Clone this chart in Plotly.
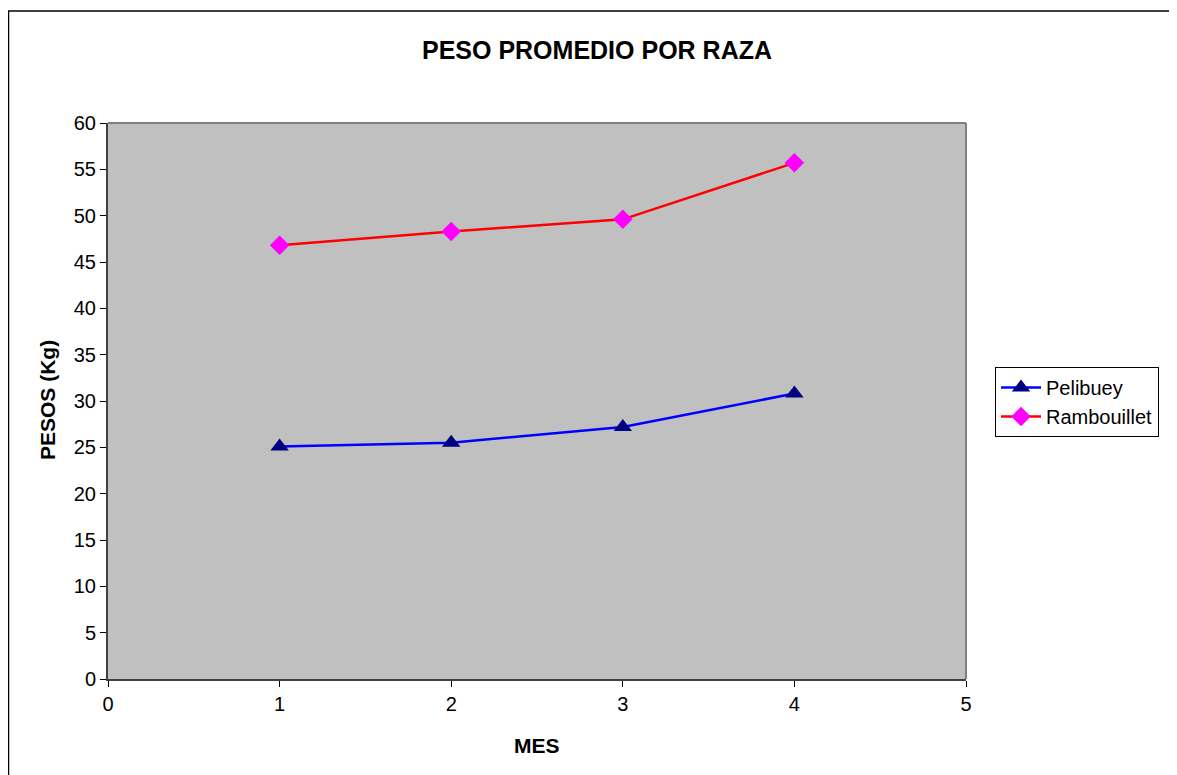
import plotly.graph_objects as go

mes = [1, 2, 3, 4]
pelibuey = [25.1, 25.5, 27.2, 30.8]
rambouillet = [46.8, 48.3, 49.6, 55.7]

W, H = 1177, 775
OFF = 8  # page body margin
# plot area in screen coordinates
SX0, SX1, SY0, SY1 = 108, 966, 123, 679
L, T = SX0 - OFF, SY0 - OFF
R, B = W - (SX1 - OFF), H - (SY1 - OFF)
pw, ph = SX1 - SX0, SY1 - SY0


def px(sx):
    return (sx - SX0) / pw


def py(sy):
    return (SY1 - sy) / ph


fig = go.Figure()
fig.add_trace(go.Scatter(x=mes, y=pelibuey, name="Pelibuey", mode="lines+markers",
                         line=dict(color="#0000FF", width=2.5),
                         marker=dict(symbol="triangle-up", size=16, color="#000080")))
fig.add_trace(go.Scatter(x=mes, y=rambouillet, name="Rambouillet", mode="lines+markers",
                         line=dict(color="#FF0000", width=2.5),
                         marker=dict(symbol="diamond", size=15, color="#FF00FF")))

font = "Liberation Sans, Arial, sans-serif"
fig.update_layout(
    width=W, height=H,
    margin=dict(l=L, r=R, t=T, b=B, autoexpand=False),
    paper_bgcolor="white", plot_bgcolor="#C0C0C0",
    font=dict(family=font, size=20, color="black"),
    title=dict(text="<b>PESO PROMEDIO POR RAZA</b>", x=(597 - OFF) / W, xanchor="center",
               y=1 - (50 - OFF) / H, yanchor="middle", font=dict(size=25)),
    showlegend=True,
    legend=dict(x=px(995), y=py(367), xanchor="left", yanchor="top",
                bordercolor="black", borderwidth=1, bgcolor="white",
                font=dict(size=20), tracegroupgap=0, itemwidth=40),
    xaxis=dict(range=[0, 5], dtick=1, tick0=0, showgrid=False, zeroline=False,
               showline=True, linecolor="#404040", linewidth=2, mirror=False,
               ticks="outside", ticklen=6, tickcolor="black",
               tickfont=dict(size=20)),
    yaxis=dict(range=[0, 60], dtick=5, tick0=0, showgrid=False, zeroline=False,
               showline=True, linecolor="#404040", linewidth=2, mirror=False,
               ticks="outside", ticklen=6, tickcolor="black",
               tickfont=dict(size=20)),
    annotations=[
        dict(text="<b>MES</b>", xref="paper", yref="paper", x=px(537),
             y=py(745), showarrow=False, xanchor="center", yanchor="middle",
             font=dict(size=21)),
        dict(text="<b>PESOS (Kg)</b>", xref="paper", yref="paper", x=px(47),
             y=py(400), showarrow=False, xanchor="center", yanchor="middle",
             textangle=-90, font=dict(size=21)),
    ],
    shapes=[
        dict(type="line", xref="paper", yref="paper", x0=0, x1=1, y0=1, y1=1,
             line=dict(color="#808080", width=2)),
        dict(type="line", xref="paper", yref="paper", x0=1, x1=1, y0=0, y1=1,
             line=dict(color="#808080", width=2)),
        dict(type="rect", xref="paper", yref="paper",
             x0=px(8.5), x1=px(1195), y0=py(800), y1=py(11),
             line=dict(color="black", width=1.5), layer="below"),
    ],
)

fig.write_html("out.html")
